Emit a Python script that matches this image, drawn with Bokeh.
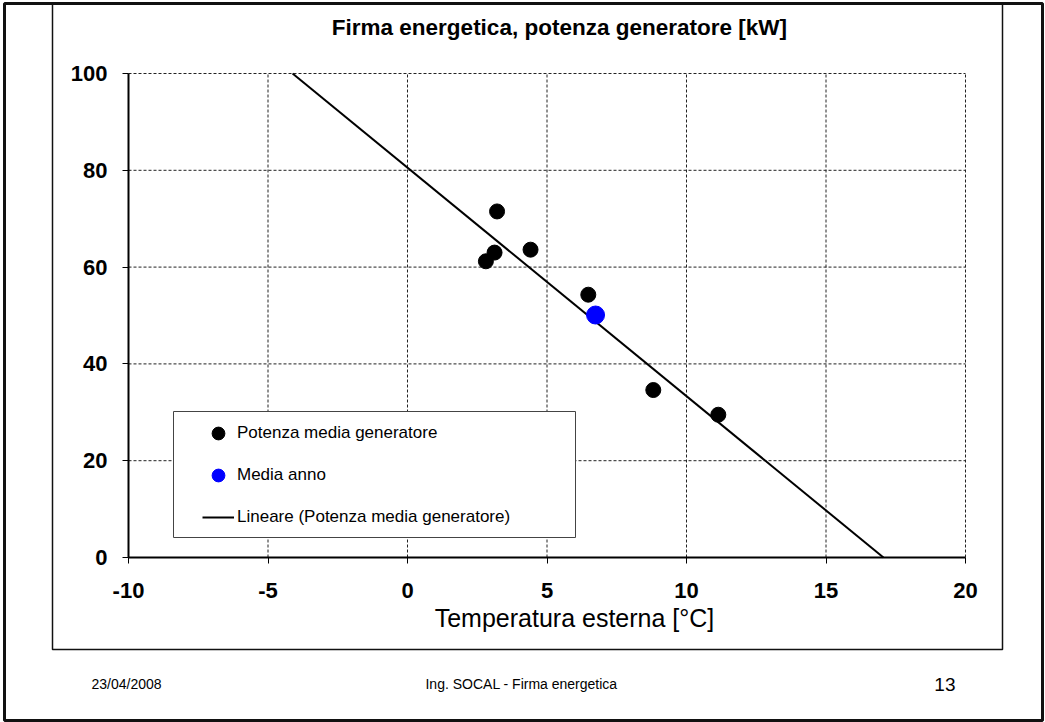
from bokeh.plotting import figure
from bokeh.models import (Range1d, FixedTicker, Label, PolyAnnotation, Legend, LegendItem, LinearAxis)
from bokeh.embed import file_html
from bokeh.resources import INLINE

# ---- data ----
temp_month = [3.21, 3.12, 2.81, 4.41, 6.48, 8.81, 11.14]
power_month = [71.5, 63.0, 61.2, 63.6, 54.3, 34.6, 29.5]
temp_year = [6.74]
power_year = [50.1]
trend_x = [-4.12, 17.06]
trend_y = [100.0, 0.0]
x_ticks = [-10, -5, 0, 5, 10, 15, 20]
x_tick_labels = ["-10", "-5", "0", "5", "10", "15", "20"]
y_ticks = [0, 20, 40, 60, 80, 100]
y_tick_labels = ["0", "20", "40", "60", "80", "100"]

title_text = "Firma energetica,  potenza generatore [kW]"
xlabel_text = "Temperatura esterna [°C]"
legend_labels = ["Potenza media generatore", "Media anno", "Lineare (Potenza media generatore)"]
footer_date = "23/04/2008"
footer_mid = "Ing. SOCAL -  Firma energetica"
footer_page = "13"

FONT = "Liberation Sans"
W, H = 1045, 722
# chart area in canvas pixels
FL, FR, FT, FB = 128, 965, 73, 557
X0, X1 = x_ticks[0], x_ticks[-1]
Y0, Y1 = y_ticks[0], y_ticks[-1]
kx = (FR - FL) / (X1 - X0)
ky = (FB - FT) / (Y1 - Y0)

p = figure(width=W, height=H, output_backend="svg", toolbar_location=None,
           x_axis_location=None, y_axis_location=None,
           x_range=Range1d(X0 - FL / kx, X1 + (W - FR) / kx),
           y_range=Range1d(Y0 - (H - FB) / ky, Y1 + FT / ky),
           min_border=0, min_border_left=0, min_border_right=0,
           min_border_top=0, min_border_bottom=0)
p.background_fill_color = "white"
p.border_fill_color = "white"
p.outline_line_color = None
p.xgrid.visible = False
p.ygrid.visible = False

def sy(py):
    return H - py

# slide borders
p.add_layout(PolyAnnotation(xs=[4, 1042, 1042, 4], ys=[sy(3), sy(3), sy(720), sy(720)],
                            xs_units="screen", ys_units="screen", fill_alpha=0,
                            line_color="#111111", line_alpha=1, line_width=3))
p.add_layout(PolyAnnotation(xs=[52, 1002, 1002, 52], ys=[sy(3), sy(3), sy(649), sy(649)],
                            xs_units="screen", ys_units="screen", fill_alpha=0,
                            line_color="#111111", line_alpha=1, line_width=1.5))

# dashed grid drawn from the tick lists
p.segment(x0=x_ticks[1:], y0=[Y0] * (len(x_ticks) - 1), x1=x_ticks[1:], y1=[Y1] * (len(x_ticks) - 1),
          line_color="#222222", line_width=1, line_dash="3 2")
p.segment(x0=[X0] * (len(y_ticks) - 1), y0=y_ticks[1:], x1=[X1] * (len(y_ticks) - 1), y1=y_ticks[1:],
          line_color="#222222", line_width=1, line_dash="3 2")

xax = LinearAxis(fixed_location=Y0, bounds=(X0, X1), ticker=FixedTicker(ticks=x_ticks))
yax = LinearAxis(fixed_location=X0, bounds=(Y0, Y1), ticker=FixedTicker(ticks=y_ticks))
xax.major_label_overrides = {t: s for t, s in zip(x_ticks, x_tick_labels)}
yax.major_label_overrides = {t: s for t, s in zip(y_ticks, y_tick_labels)}
for ax in (xax, yax):
    ax.axis_line_color = "black"
    ax.axis_line_width = 2
    ax.major_tick_line_color = "black"
    ax.major_tick_line_width = 1
    ax.minor_tick_line_color = None
    ax.major_tick_in = 0
    ax.major_tick_out = 6
    ax.major_label_text_font = FONT
    ax.major_label_text_font_style = "bold"
    ax.major_label_text_font_size = "22px"
    ax.major_label_text_color = "black"
xax.major_label_standoff = 19
yax.major_label_standoff = 15
p.add_layout(xax, "below")
p.add_layout(yax, "left")

r_trend = p.line(trend_x, trend_y, line_color="black", line_width=2)
r_month = p.scatter(temp_month, power_month, size=15, color="black")
r_year = p.scatter(temp_year, power_year, size=18, color="#0000ff")

# legend box and legend
p.add_layout(PolyAnnotation(xs=[173, 575, 575, 173], ys=[sy(411), sy(411), sy(537), sy(537)],
                            xs_units="screen", ys_units="screen", fill_color="white", fill_alpha=1,
                            line_color="#444444", line_alpha=1, line_width=1))
legend = Legend(items=[LegendItem(label=legend_labels[0], renderers=[r_month]),
                       LegendItem(label=legend_labels[1], renderers=[r_year]),
                       LegendItem(label=legend_labels[2], renderers=[r_trend])],
                location=(202, sy(533)), padding=0, margin=0,
                glyph_width=32, glyph_height=32, label_height=32, spacing=10,
                label_standoff=3, border_line_alpha=0, background_fill_alpha=0,
                label_text_font=FONT, label_text_font_size="17px", label_text_color="black")
p.add_layout(legend)

p.add_layout(Label(x=562, y=sy(27), x_units="screen", y_units="screen", text=title_text,
                   text_align="center", text_baseline="middle", text_font=FONT,
                   text_font_style="bold", text_font_size="22.5px", text_color="black"))
p.add_layout(Label(x=574, y=sy(617), x_units="screen", y_units="screen", text=xlabel_text,
                   text_align="center", text_baseline="middle", text_font=FONT,
                   text_font_size="25px", text_color="black"))
p.add_layout(Label(x=91, y=sy(683), x_units="screen", y_units="screen", text=footer_date,
                   text_align="left", text_baseline="middle", text_font=FONT,
                   text_font_size="14px", text_color="black"))
p.add_layout(Label(x=523, y=sy(683), x_units="screen", y_units="screen", text=footer_mid,
                   text_align="center", text_baseline="middle", text_font=FONT,
                   text_font_size="14px", text_color="black"))
p.add_layout(Label(x=955, y=sy(684), x_units="screen", y_units="screen", text=footer_page,
                   text_align="right", text_baseline="middle", text_font=FONT,
                   text_font_size="19px", text_color="black"))

open("out.html", "w").write(file_html(p, INLINE))
